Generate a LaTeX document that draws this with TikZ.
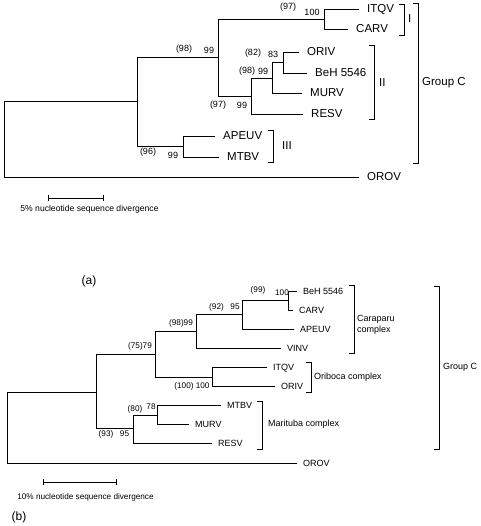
\documentclass[tikz,border=0pt]{standalone}
\usepackage{fontspec}
\setmainfont{Liberation Sans}
\tikzset{
	branch/.style={line width=0.8pt,line cap=rect},
	leafa/.style={anchor=west,inner xsep=8pt,inner ysep=0pt,text height=1.4ex,text depth=0pt,font=\fontsize{11.5}{13}\selectfont},
	leafb/.style={anchor=west,inner xsep=6pt,inner ysep=0pt,text height=1.4ex,text depth=0pt,font=\fontsize{9}{11}\selectfont},
	supa/.style={inner sep=0pt,font=\fontsize{9}{10}\selectfont},
	supb/.style={inner sep=0pt,font=\fontsize{8.2}{9}\selectfont},
	grpa/.style={anchor=west,inner sep=0pt,font=\fontsize{11.5}{13}\selectfont},
	grpb/.style={anchor=west,inner sep=0pt,align=left,font=\fontsize{9}{11}\selectfont},
	scaletext/.style={inner sep=0pt}
}
\def\cladebar#1#2#3{\draw[branch] (#1,#2) +(-5,0) -- (#1,#2) -- (#1,#3) -- +(-5,0);}
\def\scalebar#1#2#3{\draw[branch] (#1,#3) +(0,-3) -- +(0,3) (#1,#3) -- (#2,#3) +(0,-3) -- +(0,3);}

\begin{document}
\begin{tikzpicture}[x=1pt,y=-1pt]
	\useasboundingbox (0,0) rectangle (480,526);
	% (a)
	\coordinate (a0) at (4,139);
	\coordinate (aA) at (137,101);
	\coordinate (aB) at (218,57);
	\coordinate (aI) at (324,19);
	\coordinate (aC) at (251,96);
	\coordinate (aD) at (272,78);
	\coordinate (aE) at (283,62);
	\coordinate (aIII) at (183,146);
	\node[leafa] (a-itqv) at (359,9) {ITQV};
	\node[leafa] (a-carv) at (348,29) {CARV};
	\node[leafa] (a-oriv) at (299,52) {ORIV};
	\node[leafa] (a-beh) at (307,73) {BeH 5546};
	\node[leafa] (a-murv) at (302,93) {MURV};
	\node[leafa] (a-resv) at (303,114) {RESV};
	\node[leafa] (a-apeuv) at (215,136) {APEUV};
	\node[leafa] (a-mtbv) at (219,157) {MTBV};
	\node[leafa] (a-orov) at (359,177) {OROV};
	\draw[branch] (a0) |- (aA);
	\draw[branch] (a0) |- (a-orov);
	\draw[branch] (aA) |- (aB);
	\draw[branch] (aA) |- (aIII);
	\draw[branch] (aB) |- (aI);
	\draw[branch] (aB) |- (aC);
	\draw[branch] (aI) |- (a-itqv);
	\draw[branch] (aI) |- (a-carv);
	\draw[branch] (aC) |- (aD);
	\draw[branch] (aC) |- (a-resv);
	\draw[branch] (aD) |- (aE);
	\draw[branch] (aD) |- (a-murv);
	\draw[branch] (aE) |- (a-oriv);
	\draw[branch] (aE) |- (a-beh);
	\draw[branch] (aIII) |- (a-apeuv);
	\draw[branch] (aIII) |- (a-mtbv);
	\node[supa] (sa1) at (288,7) {(97)};
	\node[supa] (sa2) at (312,12) {100};
	\node[supa] (sa3) at (184,49) {(98)};
	\node[supa] (sa4) at (209,50) {99};
	\node[supa] (sa5) at (253,53) {(82)};
	\node[supa] (sa6) at (273,54) {83};
	\node[supa] (sa7) at (247,71) {(98)};
	\node[supa] (sa8) at (263,71) {99};
	\node[supa] (sa9) at (218,105) {(97)};
	\node[supa] (sa10) at (242,105) {99};
	\node[supa] (sa11) at (148,152) {(96)};
	\node[supa] (sa12) at (173,155) {99};
	\cladebar{404}{4}{35}
	\cladebar{374}{45}{119}
	\cladebar{273}{130}{162}
	\cladebar{418}{3}{163}
	\node[grpa] (ga1) at (408,19) {I};
	\node[grpa] (ga2) at (379,83) {II};
	\node[grpa] (ga3) at (282,146) {III};
	\node[grpa] (ga4) at (422,83) {Group C};
	\scalebar{48}{103}{198}
	\node[scaletext,font=\fontsize{8.6}{10}\selectfont] (scalea) at (89.5,209) {5\% nucleotide sequence divergence};
	\node[inner sep=0pt,font=\fontsize{12}{14}\selectfont] (capa) at (89,281) {(a)};
	% (b)
	\coordinate (b0) at (7,427.5);
	\coordinate (bP) at (96,392);
	\coordinate (bQ) at (155,354);
	\coordinate (bR) at (196,331);
	\coordinate (bT) at (242,314);
	\coordinate (bS) at (288,300);
	\coordinate (bU) at (212,377);
	\coordinate (bV) at (133,428);
	\coordinate (bW) at (157,415);
	\node[leafb] (b-beh) at (297,291) {BeH 5546};
	\node[leafb] (b-carv) at (293,310) {CARV};
	\node[leafb] (b-apeuv) at (294,329) {APEUV};
	\node[leafb] (b-vinv) at (281,348) {VINV};
	\node[leafb] (b-itqv) at (267,367) {ITQV};
	\node[leafb] (b-oriv) at (275,386) {ORIV};
	\node[leafb] (b-mtbv) at (221,405) {MTBV};
	\node[leafb] (b-murv) at (189,424) {MURV};
	\node[leafb] (b-resv) at (212,443) {RESV};
	\node[leafb] (b-orov) at (297,463) {OROV};
	\draw[branch] (b0) |- (bP);
	\draw[branch] (b0) |- (b-orov);
	\draw[branch] (bP) |- (bQ);
	\draw[branch] (bP) |- (bV);
	\draw[branch] (bQ) |- (bR);
	\draw[branch] (bQ) |- (bU);
	\draw[branch] (bR) |- (bT);
	\draw[branch] (bR) |- (b-vinv);
	\draw[branch] (bT) |- (bS);
	\draw[branch] (bT) |- (b-apeuv);
	\draw[branch] (bS) |- (b-beh);
	\draw[branch] (bS) |- (b-carv);
	\draw[branch] (bU) |- (b-itqv);
	\draw[branch] (bU) |- (b-oriv);
	\draw[branch] (bV) |- (bW);
	\draw[branch] (bV) |- (b-resv);
	\draw[branch] (bW) |- (b-mtbv);
	\draw[branch] (bW) |- (b-murv);
	\node[supb] (sb1) at (258,290) {(99)};
	\node[supb] (sb2) at (282,293) {100};
	\node[supb] (sb3) at (216.5,307) {(92)};
	\node[supb] (sb4) at (235,307) {95};
	\node[supb] (sb5) at (181,323) {(98)99};
	\node[supb] (sb6) at (140,346) {(75)79};
	\node[supb] (sb7) at (192,386) {(100) 100};
	\node[supb] (sb8) at (135,409) {(80)};
	\node[supb] (sb9) at (151,407) {78};
	\node[supb] (sb10) at (106,434) {(93)};
	\node[supb] (sb11) at (124.5,434) {95};
	\cladebar{354}{285}{353}
	\cladebar{311}{362}{392}
	\cladebar{262}{401}{449}
	\cladebar{439}{286}{449}
	\node[grpb] (gb1) at (357,325) {Caraparu\\complex};
	\node[grpb] (gb2) at (314,377) {Oriboca complex};
	\node[grpb] (gb3) at (268,424) {Marituba complex};
	\node[grpb] (gb4) at (443,367) {Group C};
	\scalebar{43}{116}{482}
	\node[scaletext,font=\fontsize{8.2}{10}\selectfont] (scaleb) at (85.5,497) {10\% nucleotide sequence divergence};
	\node[inner sep=0pt,font=\fontsize{12}{14}\selectfont] (capb) at (19,517) {(b)};
\end{tikzpicture}
\end{document}
